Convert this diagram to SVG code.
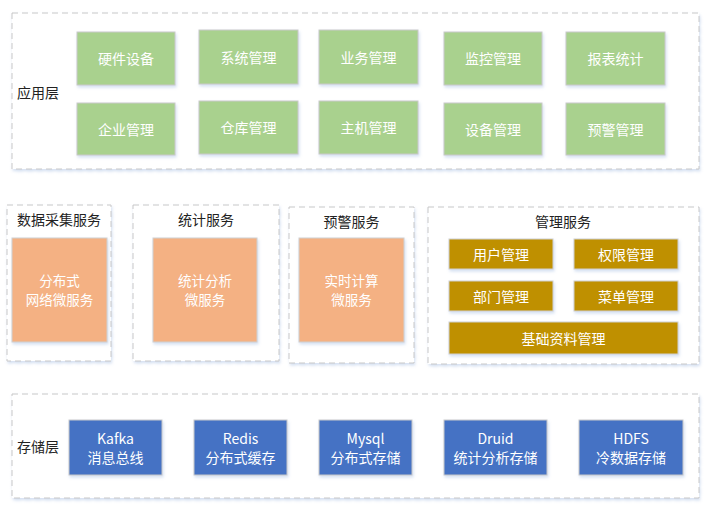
<svg xmlns="http://www.w3.org/2000/svg" width="709" height="509" viewBox="0 0 709 509">
<defs>
<filter id="sh" x="-10%" y="-10%" width="130%" height="140%">
<feDropShadow dx="1" dy="2" stdDeviation="1.5" flood-color="#9fb8e0" flood-opacity="0.45"/>
</filter>
<style>
text{font-family:"Noto Sans CJK SC","Noto Sans",sans-serif;font-size:14px;}
.lbl{fill:#222;}
.w{fill:#fff;text-anchor:middle;dominant-baseline:central;}
.w2{fill:#fff;text-anchor:middle;dominant-baseline:central;font-size:13.5px;}
.t{fill:#222;text-anchor:middle;dominant-baseline:central;}
.dash{fill:#fff;stroke:#c8c8c8;stroke-width:1;stroke-dasharray:6 4;filter:url(#sh);}
.g{fill:#a9d18e;stroke:#c9c9c9;stroke-width:1;filter:url(#sh);}
.o{fill:#f4b183;stroke:#d0d0d0;stroke-width:1;filter:url(#sh);}
.y{fill:#bf9000;stroke:#d0d0d0;stroke-width:1;filter:url(#sh);}
.b{fill:#4472c4;stroke:#c9c9c9;stroke-width:1;filter:url(#sh);}
</style>
</defs>
<rect width="709" height="509" fill="#fff"/>

<g id="app-layer">
<rect class="dash" x="12" y="13" width="687" height="156"/>
<text class="lbl" x="17" y="92" dominant-baseline="central">应用层</text>
</g>
<g id="n-hw"><rect class="g" x="77" y="32" width="98" height="53"/><text class="w" x="126" y="58">硬件设备</text></g>
<g id="n-sys"><rect class="g" x="199" y="30" width="99" height="54"/><text class="w" x="248.500" y="57">系统管理</text></g>
<g id="n-biz"><rect class="g" x="319" y="30" width="99" height="54"/><text class="w" x="368.500" y="57">业务管理</text></g>
<g id="n-mon"><rect class="g" x="444" y="32" width="98" height="53"/><text class="w" x="493" y="58">监控管理</text></g>
<g id="n-rpt"><rect class="g" x="566" y="32" width="99" height="53"/><text class="w" x="615.500" y="58">报表统计</text></g>
<g id="n-ent"><rect class="g" x="77" y="103" width="98" height="52"/><text class="w" x="126" y="129">企业管理</text></g>
<g id="n-wh"><rect class="g" x="199" y="101" width="99" height="53"/><text class="w" x="248.500" y="127">仓库管理</text></g>
<g id="n-host"><rect class="g" x="319" y="101" width="99" height="53"/><text class="w" x="368.500" y="127">主机管理</text></g>
<g id="n-dev"><rect class="g" x="444" y="103" width="98" height="52"/><text class="w" x="493" y="129">设备管理</text></g>
<g id="n-warn"><rect class="g" x="566" y="103" width="99" height="52"/><text class="w" x="615.500" y="129">预警管理</text></g>

<g id="svc-collect">
<rect class="dash" x="7" y="205" width="104" height="156"/>
<text class="t" x="59" y="219">数据采集服务</text>
<rect class="o" x="12" y="238" width="95" height="104"/>
<text class="w2" x="59.500" y="279.500">分布式</text>
<text class="w2" x="59.500" y="299">网络微服务</text>
</g>
<g id="svc-stat">
<rect class="dash" x="133" y="205" width="146" height="156"/>
<text class="t" x="206" y="219">统计服务</text>
<rect class="o" x="153" y="238" width="104" height="104"/>
<text class="w2" x="205" y="279.500">统计分析</text>
<text class="w2" x="205" y="299">微服务</text>
</g>
<g id="svc-warn">
<rect class="dash" x="289" y="207" width="125" height="156"/>
<text class="t" x="351.500" y="221">预警服务</text>
<rect class="o" x="299" y="238" width="105" height="104"/>
<text class="w2" x="351.500" y="279.500">实时计算</text>
<text class="w2" x="351.500" y="299">微服务</text>
</g>
<g id="svc-mgmt">
<rect class="dash" x="428" y="207" width="271" height="157"/>
<text class="t" x="563" y="221">管理服务</text>
</g>
<g id="n-user"><rect class="y" x="449" y="239" width="104" height="30"/><text class="w" x="501" y="254">用户管理</text></g>
<g id="n-perm"><rect class="y" x="574" y="239" width="104" height="30"/><text class="w" x="626" y="254">权限管理</text></g>
<g id="n-dept"><rect class="y" x="449" y="281" width="104" height="30"/><text class="w" x="501" y="296">部门管理</text></g>
<g id="n-menu"><rect class="y" x="574" y="281" width="104" height="30"/><text class="w" x="626" y="296">菜单管理</text></g>
<g id="n-base"><rect class="y" x="449" y="322" width="229" height="32"/><text class="w" x="563.500" y="338">基础资料管理</text></g>

<g id="store-layer">
<rect class="dash" x="12" y="394" width="687" height="104"/>
<text class="lbl" x="17" y="446" dominant-baseline="central">存储层</text>
</g>
<g id="n-kafka"><rect class="b" x="69" y="420" width="93" height="55"/><text class="w" x="115.500" y="437.500">Kafka</text><text class="w" x="115.500" y="456.500">消息总线</text></g>
<g id="n-redis"><rect class="b" x="194" y="420" width="93" height="55"/><text class="w" x="240.500" y="437.500">Redis</text><text class="w" x="240.500" y="456.500">分布式缓存</text></g>
<g id="n-mysql"><rect class="b" x="319" y="420" width="93" height="55"/><text class="w" x="365.500" y="437.500">Mysql</text><text class="w" x="365.500" y="456.500">分布式存储</text></g>
<g id="n-druid"><rect class="b" x="444" y="420" width="103" height="55"/><text class="w" x="495.500" y="437.500">Druid</text><text class="w" x="495.500" y="456.500">统计分析存储</text></g>
<g id="n-hdfs"><rect class="b" x="579" y="420" width="104" height="55"/><text class="w" x="631" y="437.500">HDFS</text><text class="w" x="631" y="456.500">冷数据存储</text></g>

<g id="connectors"></g>
</svg>
